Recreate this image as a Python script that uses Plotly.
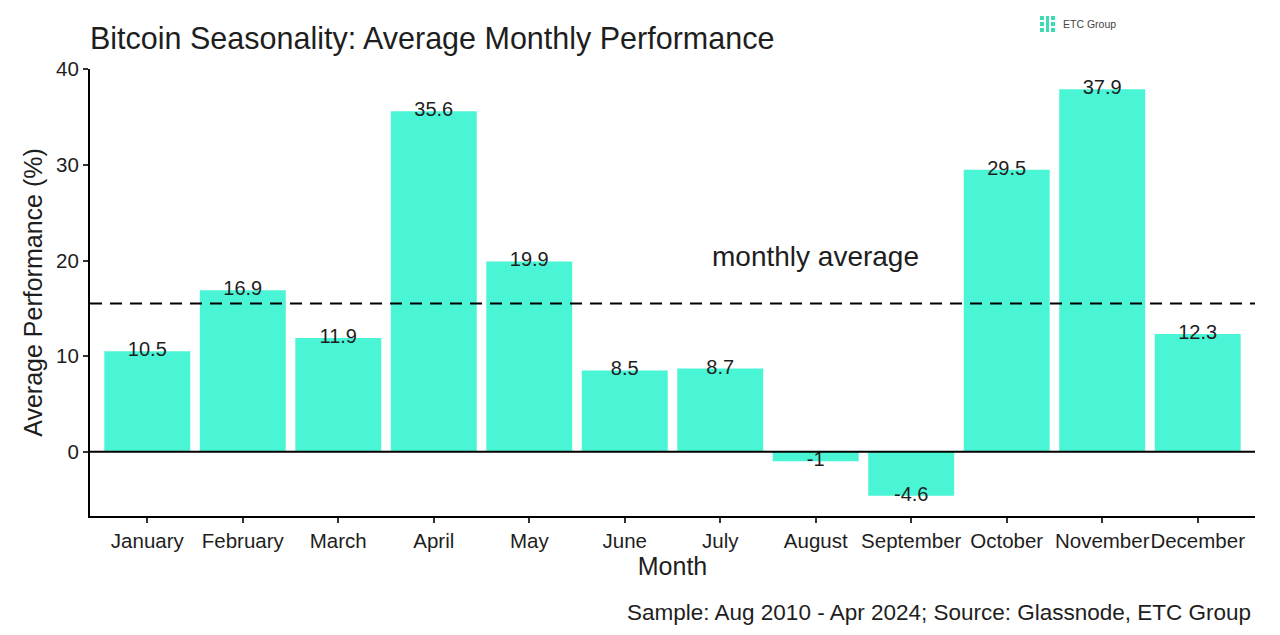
import plotly.graph_objects as go

months = ["January", "February", "March", "April", "May", "June", "July",
          "August", "September", "October", "November", "December"]
performance = [10.5, 16.9, 11.9, 35.6, 19.9, 8.5, 8.7, -1, -4.6, 29.5, 37.9, 12.3]
labels = ["10.5", "16.9", "11.9", "35.6", "19.9", "8.5", "8.7", "-1", "-4.6", "29.5", "37.9", "12.3"]
y_ticks = [0, 10, 20, 30, 40]

avg = sum(performance) / len(performance)
x_idx = list(range(len(months)))

BAR = "#4AF5D6"
FONT = "Liberation Sans, Arial, sans-serif"
TXT = "#1e1e1e"

# page offset of 8px (body margin) is accounted for in margins below
PL, PR, PT, PB = 90, 1255, 69, 516  # plot area in page pixels

fig = go.Figure()
fig.add_trace(go.Bar(x=x_idx, y=performance, width=0.9, marker=dict(color=BAR, line=dict(width=0)),
                     showlegend=False, hoverinfo="skip"))
fig.add_trace(go.Scatter(x=x_idx, y=performance, text=labels, mode="text",
                         textposition="middle center",
                         textfont=dict(family=FONT, size=20, color=TXT),
                         showlegend=False, hoverinfo="skip"))

fig.add_hline(y=0, line=dict(color="black", width=2))
fig.add_hline(y=avg, line=dict(color="black", width=2, dash="12px,8px"))

fig.add_annotation(x=7, y=20.4, text="monthly average", showarrow=False,
                   font=dict(family=FONT, size=28, color=TXT), xanchor="center", yanchor="middle")

fig.add_annotation(xref="paper", yref="paper", x=-0.002, y=1.0, yshift=PT - 38,
                   text="Bitcoin Seasonality: Average Monthly Performance", showarrow=False,
                   xanchor="left", yanchor="middle",
                   font=dict(family=FONT, size=30.5, color=TXT))

fig.add_annotation(xref="paper", yref="paper", x=0.998, y=0, yshift=-(612 - PB),
                   text="Sample: Aug 2010 - Apr 2024; Source: Glassnode, ETC Group", showarrow=False,
                   xanchor="right", yanchor="middle",
                   font=dict(family=FONT, size=22.5, color=TXT))

# ETC Group logo
W = PR - PL
H = PB - PT
fig.add_annotation(xref="paper", yref="paper", x=(1061 - PL) / W, y=(PB - 24) / H,
                   text="ETC Group", showarrow=False, xanchor="left", yanchor="middle",
                   font=dict(family=FONT, size=10.5, color="#444444"))
for dx, dy in [(0, 0), (0, 6), (0, 12), (11, 0), (11, 6), (11, 12)]:
    x0 = 1040 + dx
    y0 = 16 + dy
    fig.add_shape(type="rect", xref="paper", yref="paper",
                  x0=(x0 - PL) / W, x1=(x0 + 4 - PL) / W,
                  y0=(PB - y0 - 4) / H, y1=(PB - y0) / H,
                  fillcolor="#3ED9B5", line=dict(width=0))
fig.add_shape(type="rect", xref="paper", yref="paper",
              x0=(1046 - PL) / W, x1=(1049 - PL) / W,
              y0=(PB - 32) / H, y1=(PB - 16) / H,
              fillcolor="#3ED9B5", line=dict(width=0))

fig.update_layout(
    width=1264, height=619,
    margin=dict(l=PL - 8, r=1272 - PR, t=PT - 8, b=627 - PB, autoexpand=False),
    paper_bgcolor="white", plot_bgcolor="white",
    font=dict(family=FONT, color=TXT),
    xaxis=dict(
        range=[-0.6, 11.6], tickmode="array", tickvals=x_idx, ticktext=months,
        tickangle=0, automargin=False,
        showline=True, linecolor="black", linewidth=2, ticks="outside", ticklen=5,
        tickcolor="#333333", tickwidth=2, showgrid=False, zeroline=False,
        tickfont=dict(family=FONT, size=20.5, color=TXT),
        title=dict(text="Month", font=dict(family=FONT, size=25, color=TXT), standoff=3),
    ),
    yaxis=dict(
        range=[-6.725, 40.03], tickmode="array", tickvals=y_ticks, automargin=False,
        showline=True, linecolor="black", linewidth=2, ticks="outside", ticklen=5,
        tickcolor="#333333", tickwidth=2, showgrid=False, zeroline=False,
        tickfont=dict(family=FONT, size=20.5, color=TXT),
        title=dict(text="Average Performance (%)", font=dict(family=FONT, size=25, color=TXT), standoff=6),
    ),
)

fig.write_html("out.html")
